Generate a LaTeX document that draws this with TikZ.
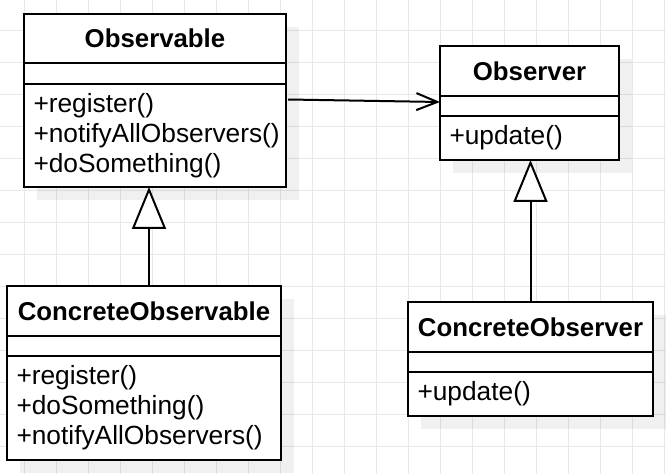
\documentclass[tikz,border=0pt]{standalone}
\usepackage{fontspec}
\setmainfont{Liberation Sans}
\usepackage{tikz}
\usetikzlibrary{arrows.meta,positioning,backgrounds}
\definecolor{gridgray}{RGB}{232,232,232}

\begin{document}
\begin{tikzpicture}[x=1pt, y=1pt,
    umlbox/.style={draw, line width=2pt, fill=white, outer sep=0pt, inner sep=0pt},
    classname/.style={umlbox, minimum height=50pt, font=\bfseries\fontsize{25.8}{30}\selectfont},
    attrs/.style={umlbox, minimum height=20pt},
    methods/.style={umlbox, inner xsep=9.5pt, align=left, font=\fontsize{26.3}{30}\selectfont},
    assoc/.style={-{Straight Barb[length=21pt, width=17pt]}, line width=2pt},
    inherit/.style={-{Triangle[length=42pt, width=34pt, fill=white]}, line width=2pt}]
    \useasboundingbox (0,0) rectangle (666,474);
    % Observable
    \node[classname, minimum width=262pt, minimum height=49pt, anchor=north west] (obsHead) at (24,460) {Observable};
    \node[attrs, minimum width=262pt, minimum height=21pt, below=0pt of obsHead] (obsAttr) {};
    \node[methods, text width=243pt, minimum height=103pt, below=0pt of obsAttr] (obsMeth) {+register()\\+notifyAllObservers()\\+doSomething()};
    % Observer
    \node[classname, minimum width=179pt, anchor=north west] (obsvHead) at (440,428) {Observer};
    \node[attrs, minimum width=179pt, below=0pt of obsvHead] (obsvAttr) {};
    \node[methods, text width=160pt, minimum height=44pt, below=0pt of obsvAttr] (obsvMeth) {+update()};
    % ConcreteObservable
    \node[classname, minimum width=274pt, anchor=north west] (cobsHead) at (7,188) {ConcreteObservable};
    \node[attrs, minimum width=274pt, below=0pt of cobsHead] (cobsAttr) {};
    \node[methods, text width=255pt, minimum height=104pt, below=0pt of cobsAttr] (cobsMeth) {+register()\\+doSomething()\\+notifyAllObservers()};
    % ConcreteObserver
    \node[classname, minimum width=245pt, anchor=north west] (cobsvHead) at (408,172) {ConcreteObserver};
    \node[attrs, minimum width=245pt, below=0pt of cobsvHead] (cobsvAttr) {};
    \node[methods, text width=226pt, minimum height=44pt, below=0pt of cobsvAttr] (cobsvMeth) {+update()};
    % Relations
    \draw[assoc] ([xshift=2pt, yshift=-15.5pt]obsMeth.north east) -- ([yshift=4pt]obsvAttr.west);
    \draw[inherit] ([xshift=5pt]cobsHead.north) -- ([xshift=5pt]cobsHead.north |- obsMeth.south);
    \draw[inherit] (cobsvHead.north) -- (cobsvHead.north |- obsvMeth.south);
    % Grid and shadows
    \begin{scope}[on background layer]
        \draw[gridgray, line width=0.8pt, step=32pt, shift={(24.5,28)}] (-24.5,-28) grid (641.5,446);
        \foreach \h/\m in {obsHead/obsMeth, obsvHead/obsvMeth, cobsHead/cobsMeth, cobsvHead/cobsvMeth}
            \fill[black, opacity=0.06] ([shift={(13,-13)}]\h.north west) rectangle ([shift={(13,-13)}]\m.south east);
    \end{scope}
\end{tikzpicture}
\end{document}
